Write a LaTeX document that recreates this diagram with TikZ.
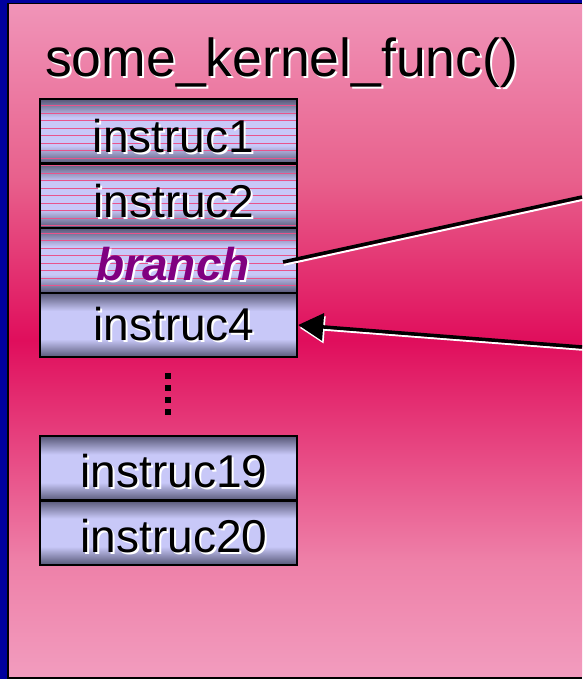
\documentclass[tikz,border=0pt]{standalone}
\usepackage{fontspec}
\setmainfont{Liberation Sans}
\usetikzlibrary{arrows.meta,calc}
\definecolor{bgblue}{RGB}{0,0,158}
\definecolor{pktop}{RGB}{240,148,184}
\definecolor{pkup}{RGB}{232,96,140}
\definecolor{pkmid}{RGB}{224,14,92}
\definecolor{pklow}{RGB}{238,128,168}
\definecolor{pkbot}{RGB}{242,156,190}
\definecolor{bdk}{RGB}{88,88,120}
\definecolor{blt}{RGB}{200,200,248}
\definecolor{stripe}{RGB}{232,84,140}
\definecolor{brpurple}{RGB}{128,0,128}
\pgfdeclareverticalshading{boxsh}{100bp}{color(0bp)=(bdk); color(25bp)=(bdk); color(39bp)=(blt); color(61bp)=(blt); color(75bp)=(bdk); color(100bp)=(bdk)}
\pgfdeclareverticalshading{panelsh}{100bp}{color(0bp)=(pkbot); color(25bp)=(pkbot); color(33.6bp)=(pklow); color(50bp)=(pkmid); color(62bp)=(pkup); color(75bp)=(pktop); color(100bp)=(pktop)}
\newcommand\shd[2][black]{\rlap{\hspace{2pt}\raisebox{-2pt}{\color{white}#2}}{\color{#1}#2}}
\tikzset{
  instrbox/.style={rectangle, inner sep=0pt, minimum width=257pt, minimum height=64pt, shading=boxsh},
  boxborder/.style={draw=black, line width=2pt},
  instrtext/.style={anchor=base, inner sep=0pt, font=\fontsize{46}{54}\selectfont},
  titletext/.style={anchor=base west, inner sep=0pt, font=\fontsize{53.5}{62}\selectfont},
  blackline/.style={draw=black, line width=3.5pt},
  whiteline/.style={draw=white, line width=2pt}
}
\begin{document}
\begin{tikzpicture}[x=1pt,y=-1pt]
\useasboundingbox (0,0) rectangle (582,679);
% background
\fill[bgblue] (0,0) rectangle (582,679);
\fill[black] (7,3) rectangle (582,679);
\shade[shading=panelsh] (9,5) rectangle (582,676);
% title
\node[titletext] (title) at (45,77) {\shd{some\_kernel\_func()}};
% boxes
\node[instrbox] (b1) at (168.5,131.5) {};
\node[instrbox] (b2) at (168.5,195.5) {};
\node[instrbox] (b3) at (168.5,260.5) {};
\node[instrbox] (b4) at (168.5,325) {};
\node[instrbox] (b19) at (168.5,468.5) {};
\node[instrbox] (b20) at (168.5,532.5) {};
% stripes on first three boxes
\begin{scope}
\clip (b1.north west) rectangle (b3.south east);
\foreach \y in {98.2,105.7,...,294} \draw[stripe, line width=1pt] (40,\y) -- (297,\y);
\end{scope}
\foreach \b in {b1,b2,b3,b4,b19,b20} \draw[boxborder] (\b.north west) rectangle (\b.south east);
% texts
\node[instrtext] (t1) at (173.5,153) {\shd{instruc1}};
\node[instrtext] (t2) at (174,217) {\shd{instruc2}};
\node[instrtext] (t3) at (173,280) {\shd[brpurple]{\bfseries\itshape branch}};
\node[instrtext] (t4) at (174,340) {\shd{instruc4}};
\node[instrtext] (t19) at (174,487) {\shd{instruc19}};
\node[instrtext] (t20) at (174,552) {\shd{instruc20}};
% vertical dots
\foreach \y in {376,388,400,412} \fill[black] (165.2,\y-2.8) rectangle (170.8,\y+2.8);
% connectors
\coordinate (bs) at (283,262);
\coordinate (r1) at (582,197);
\coordinate (r2) at (582,347);
\draw[whiteline] ($(bs)+(1,2.8)$) -- ($(r1)+(1,2.8)$);
\draw[blackline] (bs) -- (r1);
\draw[whiteline, -{Triangle[length=25pt,width=27pt]}] ($(r2)+(1,2.8)$) -- ($(b4.east)+(2.5,2.8)$);
\draw[blackline, -{Triangle[length=25pt,width=27pt]}] (r2) -- ($(b4.east)+(1,0)$);
\end{tikzpicture}
\end{document}
